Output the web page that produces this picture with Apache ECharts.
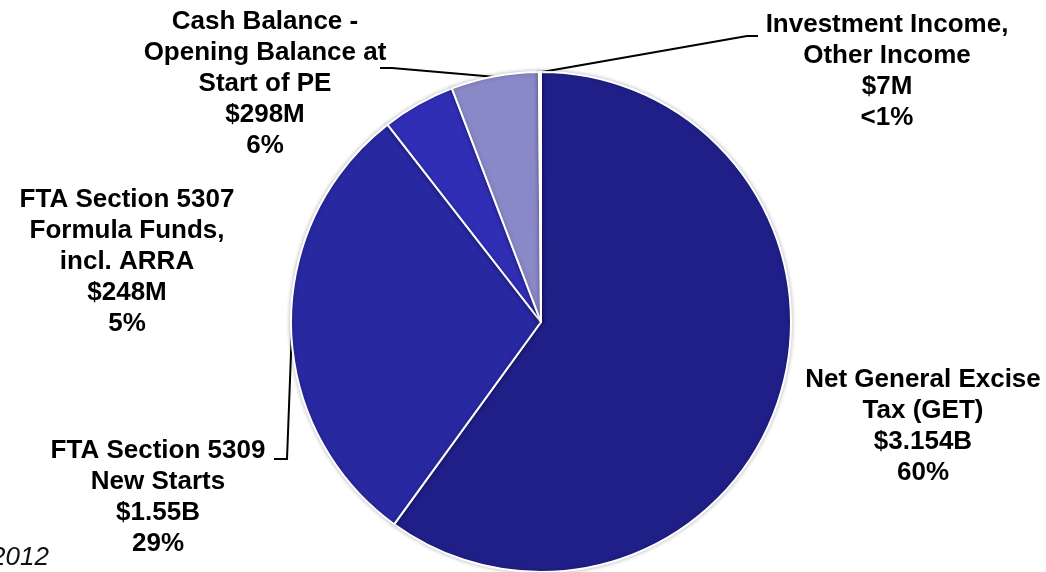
<!DOCTYPE html>
<html>
<head>
<meta charset="utf-8">
<script src="https://cdn.jsdelivr.net/npm/echarts@6/dist/echarts.min.js"></script>
<style>
  html, body { margin: 0; padding: 0; background: #ffffff; }
  #chart { width: 1046px; height: 572px; }
</style>
</head>
<body>
<div id="chart"></div>
<script>
// Funding sources, in $ millions
const categories = [
  'Net General Excise\nTax (GET)',
  'FTA Section 5309\nNew Starts',
  'FTA Section 5307\nFormula Funds,\nincl. ARRA',
  'Cash Balance -\nOpening Balance at\nStart of PE',
  'Investment Income,\nOther Income'
];
const values = [3154, 1550, 248, 298, 7];
const amountLabels = ['$3.154B', '$1.55B', '$248M', '$298M', '$7M'];
const shareLabels = ['60%', '29%', '5%', '6%', '<1%'];

const sliceColors = ['#201f87', '#2828a0', '#302eb5', '#8a89c8', '#e2e2f0'];

// Where each label block sits, plus callout paths for the outside labels
const labelSpots = [
  { x: 923, y: 426, line: null },
  { x: 158, y: 497, line: [[292, 327], [287, 459], [274, 459]] },
  { x: 127, y: 262, line: null },
  { x: 265, y: 84,  line: [[496, 77], [392, 68], [380, 68]] },
  { x: 887, y: 71,  line: [[542, 72], [747, 36], [758, 36]] }
];

const chart = echarts.init(document.getElementById('chart'), null, { renderer: 'canvas' });

chart.setOption({
  animation: false,
  backgroundColor: '#ffffff',
  graphic: [{
    type: 'text',
    left: -9,
    top: 545,
    style: {
      text: '2012',
      fill: '#111111',
      font: 'italic 26px "Liberation Sans", Arial, sans-serif'
    }
  }],
  series: [{
    type: 'pie',
    center: [541, 322],
    radius: [0, 250],
    startAngle: 90,
    clockwise: true,
    avoidLabelOverlap: false,
    data: categories.map((name, i) => ({
      name: name,
      value: values[i],
      itemStyle: { color: sliceColors[i] },
      labelLine: { show: !!labelSpots[i].line }
    })),
    itemStyle: {
      borderColor: '#ffffff',
      borderWidth: 2,
      shadowBlur: 4,
      shadowColor: 'rgba(0,0,0,0.25)'
    },
    label: {
      show: true,
      formatter: p => p.name + '\n' + amountLabels[p.dataIndex] + '\n' + shareLabels[p.dataIndex],
      color: '#000000',
      fontFamily: '"Liberation Sans", Arial, sans-serif',
      fontWeight: 'bold',
      fontSize: 26,
      lineHeight: 31,
      align: 'center'
    },
    labelLine: {
      show: true,
      lineStyle: { color: '#000000', width: 2 }
    },
    labelLayout: function (params) {
      const spot = labelSpots[params.dataIndex];
      const out = { x: spot.x, y: spot.y, align: 'center', verticalAlign: 'middle' };
      if (spot.line) out.labelLinePoints = spot.line;
      return out;
    }
  }]
});
</script>
</body>
</html>
